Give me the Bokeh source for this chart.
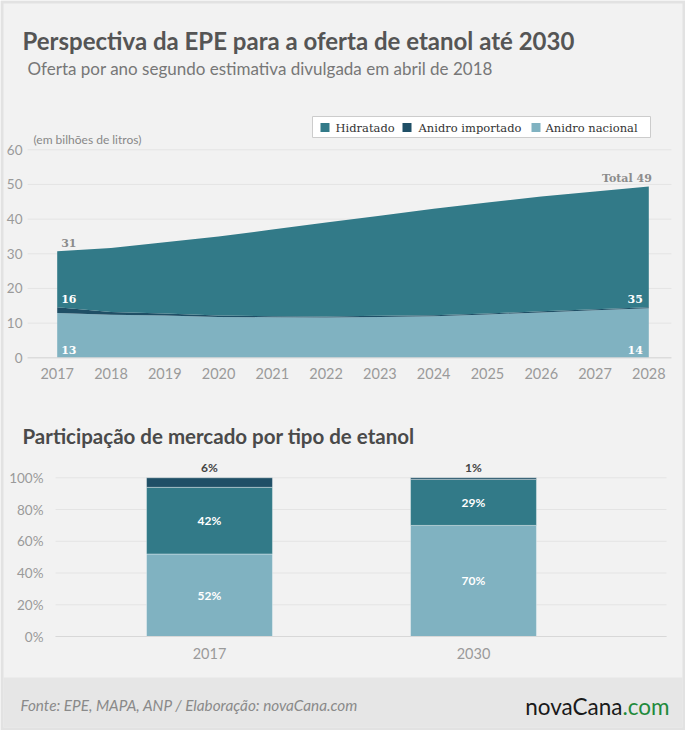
from bokeh.plotting import figure
from bokeh.models import Range1d, ColumnDataSource
from bokeh.embed import file_html
from bokeh.resources import INLINE
from bokeh.core.properties import value

# ---- data -------------------------------------------------------------
years = [2017, 2018, 2019, 2020, 2021, 2022, 2023, 2024, 2025, 2026, 2027, 2028]
anidro_nacional = [12.9, 12.4, 12.2, 11.8, 11.7, 11.6, 11.8, 12.0, 12.5, 13.1, 13.7, 14.3]
anidro_importado = [1.7, 0.8, 0.6, 0.4, 0.3, 0.3, 0.3, 0.3, 0.3, 0.3, 0.3, 0.3]
hidratado = [16.1, 18.5, 20.5, 22.8, 25.0, 27.1, 28.9, 30.7, 32.0, 33.1, 34.0, 34.8]

series_names = ["Hidratado", "Anidro importado", "Anidro nacional"]

share_years = ["2017", "2030"]
share_nacional = [52, 70]
share_hidratado = [42, 29]
share_importado = [6, 1]

area_yticks = [0, 10, 20, 30, 40, 50, 60]
bar_yticks = [0, 20, 40, 60, 80, 100]

# ---- styles -----------------------------------------------------------
C_HID = "#327a88"
C_IMP = "#1f4f66"
C_NAC = "#80b2c1"
BG = "#f2f2f2"
SANS = value("Lato")
SLAB = value("DejaVu Serif")

W, H = 685, 730


def span(d0, px0, d1, px1, size):
    """Range that maps data d0 -> px0 and d1 -> px1 on an axis `size` px long."""
    per = (px1 - px0) / (d1 - d0)
    start = d0 - px0 / per
    return Range1d(start, start + size / per)


p = figure(width=W, height=H, x_range=Range1d(0, W), y_range=Range1d(H, 0),
           output_backend="svg", toolbar_location=None, min_border=0,
           x_axis_location=None, y_axis_location=None)
p.outline_line_color = None
p.background_fill_color = BG
p.border_fill_color = BG
p.xgrid.visible = False
p.ygrid.visible = False

# area chart scales (years / billions of litres)
p.extra_x_ranges["yr"] = span(2017, 56.7, 2028, 648.3, W)
p.extra_y_ranges["bil"] = span(0, H - 357.3, 60, H - 149.3, H)
# bar chart scales (category slot / percent)
p.extra_x_ranges["bx"] = span(0, 209, 1, 473, W)
p.extra_y_ranges["pct"] = span(0, H - 636, 100, H - 477.3, H)

# frame and footer band
p.quad(left=0, right=W, top=0, bottom=H, fill_color="#e2e2e2", line_color=None)
p.quad(left=3, right=W - 3, top=3, bottom=H - 3, fill_color=BG, line_color=None)
p.quad(left=3, right=W - 3, top=677, bottom=H - 3, fill_color="#e6e6e6", line_color=None)

# titles
p.text(x=[22], y=[40], text=["Perspectiva da EPE para a oferta de etanol até 2030"],
       text_font=SANS, text_font_style="bold", text_font_size="24px",
       text_color="#555555", text_baseline="middle")
p.text(x=[27], y=[68], text=["Oferta por ano segundo estimativa divulgada em abril de 2018"],
       text_font=SANS, text_font_size="17px", text_color="#777777", text_baseline="middle")

# ---- area chart ---------------------------------------------------------
gx0, gx1 = 2016.45, 2028.42
p.segment(x0=[gx0] * len(area_yticks), x1=[gx1] * len(area_yticks),
          y0=area_yticks, y1=area_yticks, line_color="#e4e4e4", line_width=1,
          x_range_name="yr", y_range_name="bil")

src = ColumnDataSource(dict(year=years, nac=anidro_nacional,
                            imp=anidro_importado, hid=hidratado))
p.varea_stack(stackers=["nac", "imp", "hid"], x="year",
              color=[C_NAC, C_IMP, C_HID], source=src,
              x_range_name="yr", y_range_name="bil")
p.segment(x0=[gx0], x1=[gx1], y0=[0], y1=[0], line_color="#d8d8d8", line_width=1,
          x_range_name="yr", y_range_name="bil")

p.text(x=[22] * len(area_yticks), y=area_yticks, text=[str(t) for t in area_yticks],
       text_font=SANS, text_font_size="13.5px", text_color="#9a9a9a",
       text_align="right", text_baseline="middle", y_range_name="bil")
p.text(x=years, y=[373] * len(years), text=[str(y) for y in years],
       text_font=SANS, text_font_size="14.5px", text_color="#9a9a9a",
       text_align="center", text_baseline="middle", x_range_name="yr")
p.text(x=[33], y=[139], text=["(em bilhões de litros)"], text_font=SANS,
       text_font_size="12px", text_color="#888888", text_baseline="middle")

# end-point value labels
first, last = 0, len(years) - 1
tot_first = anidro_nacional[first] + anidro_importado[first] + hidratado[first]
tot_last = anidro_nacional[last] + anidro_importado[last] + hidratado[last]
base_first = anidro_nacional[first] + anidro_importado[first]
base_last = anidro_nacional[last] + anidro_importado[last]

p.text(x=[years[first]], y=[tot_first], text=[f"{round(tot_first)}"], x_offset=4, y_offset=-8,
       text_font=SLAB, text_font_style="bold", text_font_size="11px", text_color="#8c8c8c",
       text_baseline="middle", x_range_name="yr", y_range_name="bil")
p.text(x=[years[last]], y=[tot_last], text=[f"Total {round(tot_last)}"], x_offset=3, y_offset=-8,
       text_font=SLAB, text_font_style="bold", text_font_size="11px", text_color="#8c8c8c",
       text_align="right", text_baseline="middle", x_range_name="yr", y_range_name="bil")
p.text(x=[years[first], years[last]], y=[base_first, base_last],
       text=[f"{round(hidratado[first])}", f"{round(hidratado[last])}"],
       x_offset=[4, -6], y_offset=-8, text_align=["left", "right"],
       text_font=SLAB, text_font_style="bold", text_font_size="11px", text_color="white",
       text_baseline="middle", x_range_name="yr", y_range_name="bil")
p.text(x=[years[first], years[last]], y=[0, 0],
       text=[f"{round(anidro_nacional[first])}", f"{round(anidro_nacional[last])}"],
       x_offset=[4, -6], y_offset=-8, text_align=["left", "right"],
       text_font=SLAB, text_font_style="bold", text_font_size="11px", text_color="white",
       text_baseline="middle", x_range_name="yr", y_range_name="bil")

# legend
p.quad(left=[312], right=[650], top=[116], bottom=[137], fill_color="white",
       line_color="#cccccc", line_width=1)
leg_colors = [C_HID, C_IMP, C_NAC]
leg_sq = [320, 402, 531]
leg_tx = [335, 418, 545]
p.rect(x=[s + 4.5 for s in leg_sq], y=[127] * 3, width=9, height=9,
       fill_color=leg_colors, line_color=None)
p.text(x=leg_tx, y=[127.5] * 3, text=series_names, text_font=SLAB,
       text_font_size="11.5px", text_color="#333333", text_baseline="middle")

# ---- market share bars --------------------------------------------------
p.text(x=[22], y=[435], text=["Participação de mercado por tipo de etanol"],
       text_font=SANS, text_font_style="bold", text_font_size="20.5px",
       text_color="#4a4a4a", text_baseline="middle")

bx0, bx1 = -0.583, 1.731
p.segment(x0=[bx0] * len(bar_yticks), x1=[bx1] * len(bar_yticks),
          y0=bar_yticks, y1=bar_yticks, line_color="#e4e4e4", line_width=1,
          x_range_name="bx", y_range_name="pct")

pos = list(range(len(share_years)))
bsrc = ColumnDataSource(dict(pos=pos, nac=share_nacional,
                             hid=share_hidratado, imp=share_importado))
p.vbar_stack(stackers=["nac", "hid", "imp"], x="pos", width=0.477,
             color=[C_NAC, C_HID, C_IMP], source=bsrc,
             line_color="#ffffff", line_alpha=0.35, line_width=1,
             x_range_name="bx", y_range_name="pct")
p.segment(x0=[bx0], x1=[bx1], y0=[0], y1=[0], line_color="#d8d8d8", line_width=1,
          x_range_name="bx", y_range_name="pct")

p.text(x=[43] * len(bar_yticks), y=bar_yticks, text=[f"{t}%" for t in bar_yticks],
       text_font=SANS, text_font_size="13.5px", text_color="#9a9a9a",
       text_align="right", text_baseline="middle", y_range_name="pct")
p.text(x=pos, y=[653] * len(pos), text=share_years, text_font=SANS,
       text_font_size="14.5px", text_color="#9a9a9a", text_align="center",
       text_baseline="middle", x_range_name="bx")

mid_nac = [n / 2 for n in share_nacional]
mid_hid = [n + h / 2 for n, h in zip(share_nacional, share_hidratado)]
tops = [n + h + i for n, h, i in zip(share_nacional, share_hidratado, share_importado)]
p.text(x=pos + pos, y=mid_nac + mid_hid,
       text=[f"{v}%" for v in share_nacional + share_hidratado],
       text_font=SANS, text_font_style="bold", text_font_size="12px", text_color="white",
       text_align="center", text_baseline="middle", x_range_name="bx", y_range_name="pct")
p.text(x=pos, y=tops, text=[f"{v}%" for v in share_importado], y_offset=-10,
       text_font=SANS, text_font_style="bold", text_font_size="12px", text_color="#444444",
       text_align="center", text_baseline="middle", x_range_name="bx", y_range_name="pct")

# ---- footer -------------------------------------------------------------
p.text(x=[20], y=[704], text=["Fonte: EPE, MAPA, ANP / Elaboração: novaCana.com"],
       text_font=SANS, text_font_style="italic", text_font_size="15.3px",
       text_color="#8a8a8a", text_baseline="middle")
p.text(x=[622], y=[706], text=["novaCana"], text_font=value("Lato"),
       text_font_size="22.5px", text_color="#1a1a1a", text_align="right",
       text_baseline="middle")
p.text(x=[622], y=[706], text=[".com"], text_font=value("Lato"),
       text_font_size="22.5px", text_color="#1f8a3c", text_align="left",
       text_baseline="middle")

open("out.html", "w").write(file_html(p, INLINE))
